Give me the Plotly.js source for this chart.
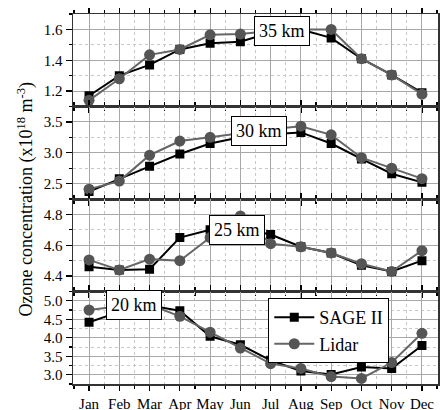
<!DOCTYPE html>
<html>
<head>
<meta charset="utf-8">
<script src="https://cdn.plot.ly/plotly-3.0.1.min.js"></script>
<style>html,body{margin:0;padding:0;background:#fff;}#chart{width:440px;height:410px;}</style>
</head>
<body>
<div id="chart"></div>
<script>
const months = ["Jan","Feb","Mar","Apr","May","Jun","Jul","Aug","Sep","Oct","Nov","Dec"];
const monthIdx = [0,1,2,3,4,5,6,7,8,9,10,11];

const sage35  = [1.17,1.30,1.37,1.47,1.51,1.52,1.58,1.60,1.545,1.41,1.305,1.19];
const lidar35 = [1.14,1.28,1.435,1.47,1.565,1.57,1.59,1.60,1.60,1.41,1.305,1.18];
const sage30  = [2.37,2.58,2.78,2.98,3.15,3.25,3.30,3.33,3.15,2.90,2.66,2.52];
const lidar30 = [2.41,2.54,2.96,3.19,3.25,3.32,3.38,3.43,3.29,2.92,2.75,2.58];
const sage25  = [4.46,4.44,4.445,4.65,4.70,4.71,4.67,4.59,4.55,4.47,4.43,4.50];
const lidar25 = [4.505,4.44,4.51,4.50,4.65,4.79,4.61,4.59,4.55,4.48,4.43,4.565];
const sage20  = [4.42,4.70,4.87,4.73,4.04,3.81,3.39,3.10,3.01,3.21,3.17,3.79];
const lidar20 = [4.75,4.85,4.90,4.58,4.15,3.72,3.30,3.17,2.95,2.90,3.33,4.12];

const panelLabels = ["35 km","30 km","25 km","20 km"];
const seriesNames = ["SAGE II","Lidar"];

const sageStyle = {line:{color:"#000",width:2},marker:{symbol:"square",size:9,color:"#000"}};
const lidarStyle = {line:{color:"#666",width:2},marker:{symbol:"circle",size:11,color:"#555"}};

const panels = [
  {sage:sage35, lidar:lidar35, range:[1.1,1.7], tv:[1.2,1.4,1.6], tt:["1.2","1.4","1.6"], mdt:0.1, lx:6.37, ly:1.59},
  {sage:sage30, lidar:lidar30, range:[2.25,3.75], tv:[2.5,3.0,3.5], tt:["2.5","3.0","3.5"], mdt:0.25, lx:5.63, ly:3.35},
  {sage:sage25, lidar:lidar25, range:[4.3,4.9], tv:[4.4,4.6,4.8], tt:["4.4","4.6","4.8"], mdt:0.1, lx:4.88, ly:4.70},
  {sage:sage20, lidar:lidar20, range:[2.75,5.25], tv:[3.0,3.5,4.0,4.5,5.0], tt:["3.0","3.5","4.0","4.5","5.0"], mdt:0.25, lx:1.49, ly:4.88}
];

const font = "Liberation Serif";
const traces = [];
const layout = {
  width:440, height:410,
  margin:{l:73,r:2,t:14,b:26},
  paper_bgcolor:"#fff", plot_bgcolor:"#fff",
  font:{family:font, size:14, color:"#000"},
  showlegend:true,
  legend:{x:0.535, y:0.232, xanchor:"left", yanchor:"top", bgcolor:"#fff",
          bordercolor:"#000", borderwidth:1, font:{family:font,size:18,color:"#000"},
          tracegroupgap:0, itemwidth:40},
  annotations:[
    {xref:"paper", yref:"paper", x:-0.13, y:0.5, xanchor:"center", yanchor:"middle",
     textangle:-90, showarrow:false,
     text:"Ozone concentration (x10<sup>18</sup> m<sup>-3</sup>)",
     font:{family:font,size:18,color:"#000"}}
  ]
};

panels.forEach((p,i)=>{
  const n = i===0 ? "" : String(i+1);
  const xa = "x"+n, ya = "y"+n;
  traces.push(Object.assign({x:monthIdx, y:p.sage, xaxis:xa, yaxis:ya, type:"scatter",
    mode:"lines+markers", name:seriesNames[0], showlegend:i===0, legendgroup:"s"}, JSON.parse(JSON.stringify(sageStyle))));
  traces.push(Object.assign({x:monthIdx, y:p.lidar, xaxis:xa, yaxis:ya, type:"scatter",
    mode:"lines+markers", name:seriesNames[1], showlegend:i===0, legendgroup:"l"}, JSON.parse(JSON.stringify(lidarStyle))));
  const d0 = 1 - (i+1)*0.25, d1 = 1 - i*0.25;
  layout["xaxis"+n] = {
    anchor:ya, range:[-0.53,11.53], tickmode:"array", tickvals:monthIdx,
    ticktext:months, showticklabels:i===3, ticks:"outside", ticklen:5, tickwidth:1.2, tickcolor:"#000",
    showline:true, linecolor:"#333", linewidth:1.5, mirror:"ticks",
    showgrid:true, gridcolor:"#a8a8a8", gridwidth:1, zeroline:false,
    minor:{tick0:0, dtick:0.5, ticks:"outside", ticklen:3, tickcolor:"#000", showgrid:true, gridcolor:"#c8c8c8", griddash:"dot", gridwidth:1},
    tickfont:{family:font,size:15,color:"#000"}, fixedrange:true
  };
  if(i>0) layout["xaxis"+n].matches = "x";
  layout["yaxis"+n] = {
    anchor:xa, domain:[d0,d1], range:p.range, tickmode:"array", tickvals:p.tv, ticktext:p.tt,
    ticks:"outside", ticklen:6, tickwidth:1.2, tickcolor:"#000",
    showline:true, linecolor:"#333", linewidth:1.5, mirror:"ticks",
    showgrid:true, gridcolor:"#a8a8a8", gridwidth:1, zeroline:false,
    minor:{tick0:0, dtick:p.mdt, ticks:"outside", ticklen:3, tickcolor:"#000", showgrid:true, gridcolor:"#c8c8c8", griddash:"dot", gridwidth:1},
    tickfont:{family:font,size:15,color:"#000"}, fixedrange:true
  };
  layout.annotations.push({xref:xa, yref:ya, x:p.lx, y:p.ly, text:panelLabels[i], showarrow:false,
    bgcolor:"#fff", bordercolor:"#000", borderwidth:1, borderpad:4,
    font:{family:font,size:18,color:"#000"}});
});

Plotly.newPlot("chart", traces, layout, {displayModeBar:false, staticPlot:true});
</script>
</body>
</html>
